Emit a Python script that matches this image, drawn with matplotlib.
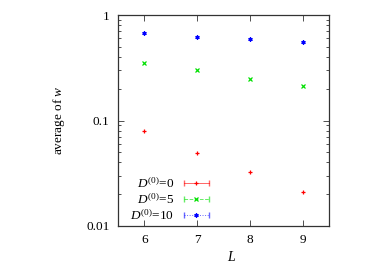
import matplotlib
matplotlib.use('Agg')
import matplotlib.pyplot as plt
from matplotlib.lines import Line2D
from matplotlib.legend_handler import HandlerLine2D, HandlerTuple
from matplotlib.ticker import FixedLocator, FixedFormatter, LogLocator, NullFormatter

# data
L = [6, 7, 8, 9]
w_d0 = [0.0793, 0.0488, 0.0322, 0.0211]
w_d5 = [0.351, 0.299, 0.248, 0.214]
w_d10 = [0.675, 0.623, 0.589, 0.555]
labels = [r'$D^{(0)}$=0', r'$D^{(0)}$=5', r'$D^{(0)}$=10']
colors = ['#ff0000', '#00e000', '#0000ff']
markers = ['+', 'x', (6, 2, 0)]
styles = ['-', '--', ':']

plt.rcParams['font.family'] = 'Liberation Serif'
plt.rcParams['mathtext.fontset'] = 'custom'
plt.rcParams['mathtext.rm'] = 'Liberation Serif'
plt.rcParams['mathtext.it'] = 'Liberation Serif:italic'
plt.rcParams['font.size'] = 9

fig = plt.figure(figsize=(3.82, 2.67), dpi=100)
ax = fig.add_axes([118 / 382, 1 - 226 / 267, 211 / 382, 211 / 267])

handles = []
hmap = {}
for ys, c, m, ls in zip([w_d0, w_d5, w_d10], colors, markers, styles):
    ax.plot(L, ys, ls='none', marker=m, color=c, markersize=3, markeredgewidth=0.9)
    cap = Line2D([], [], color=c, ls=ls, lw=0.7, marker='|', markersize=4, alpha=0.6)
    pt = Line2D([], [], color=c, ls='none', marker=m, markersize=3, markeredgewidth=0.9)
    hmap[cap] = HandlerLine2D(numpoints=2)
    hmap[pt] = HandlerLine2D(numpoints=1)
    handles.append((cap, pt))
hmap[tuple] = HandlerTuple(ndivide=1)

ax.set_yscale('log')
ax.set_xlim(5.5, 9.5)
ax.set_ylim(0.01, 1)
ax.set_xticks(L)
ax.yaxis.set_major_locator(FixedLocator([0.01, 0.1, 1]))
ax.yaxis.set_major_formatter(FixedFormatter(['0.01', '0.1', '1']))
ax.yaxis.set_minor_locator(LogLocator(base=10, subs=range(2, 10)))
ax.yaxis.set_minor_formatter(NullFormatter())
ax.tick_params(which='both', direction='in', top=True, right=True, width=0.6, color='#333333')
ax.tick_params(which='major', length=4, pad=6, labelsize=9.5)
ax.tick_params(which='minor', length=2)
for s in ax.spines.values():
    s.set_linewidth(0.9)
    s.set_color('#333333')

ax.set_ylabel(r'average of $w$', fontsize=9.5)
ax.yaxis.labelpad = 14
ax.set_xlabel(r'$L$', fontsize=10)
ax.xaxis.set_label_coords(0.54, -0.115)

ax.legend(handles, labels, handler_map=hmap, loc='lower right', markerfirst=False,
          frameon=False, handlelength=2.5, handletextpad=0.45, labelspacing=0.12,
          bbox_to_anchor=(0.45, 0.015), borderaxespad=0, borderpad=0, fontsize=9.5)

fig.savefig('out.png', dpi=100)
